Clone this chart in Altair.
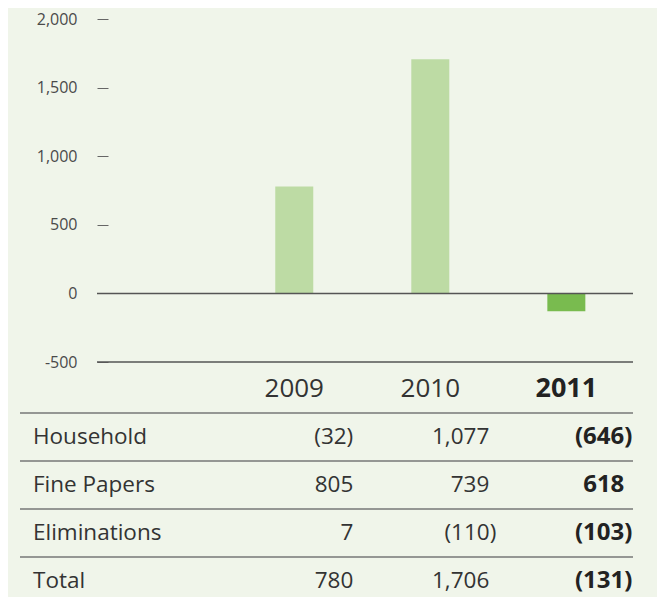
import altair as alt
import pandas as pd

# ---- data ----
years = [2009, 2010, 2011]
totals = [780, 1706, -131]
rows = ["Household", "Fine Papers", "Eliminations", "Total"]
household = [-32, 1077, -646]
fine_papers = [805, 739, 618]
eliminations = [7, -110, -103]
total_row = [780, 1706, -131]
y_ticks = [-500, 0, 500, 1000, 1500, 2000]
ref_lines = [0, -500]

BG = "#f0f5ea"
FONT = "Open Sans"
TXT = "#333333"


def fmt(v):
    return f"({abs(v):,})" if v < 0 else f"{v:,}"


bars_df = pd.DataFrame({"year": years, "value": totals})
recs = []
for r, vals in zip(rows, [household, fine_papers, eliminations, total_row]):
    for yr, v in zip(years, vals):
        recs.append({"row": r, "year": yr, "value": v, "label": fmt(v)})
table_df = pd.DataFrame(recs)
rows_df = pd.DataFrame({"row": rows})
head_df = pd.DataFrame({"row": ["header"] * len(years), "year": years,
                        "label": [str(y) for y in years]})
lines_df = pd.DataFrame({"y": ref_lines})

x_scale = alt.Scale(domain=[2007.55, 2011.49], nice=False, zero=False, padding=0)
y_bar = alt.Scale(domain=[-500, 2000], range=[343, 0], nice=False, zero=False)
y_tab = alt.Scale(domain=["header"] + rows, range=[346, 586],
                  paddingInner=0, paddingOuter=0)

X = alt.X("year:Q", scale=x_scale, axis=None)
YT = alt.Y("row:N", scale=y_tab, axis=None)

bars = alt.Chart(bars_df).mark_bar(size=38).encode(
    x=X,
    y=alt.Y("value:Q", scale=y_bar, title=None,
            axis=alt.Axis(values=y_ticks, domain=False, grid=False,
                          tickSize=11, offset=-11, tickColor="#666666",
                          tickWidth=1, labelPadding=20, labelFontSize=16,
                          labelColor="#4a4a4a", labelFont=FONT,
                          labelExpr="datum.value < 0 ? '-' + format(abs(datum.value), ',') : format(datum.value, ',')")),
    color=alt.condition("datum.year == 2011", alt.value("#79bb4f"), alt.value("#bddba4")),
)

lines = alt.Chart(lines_df).mark_rule(color="#555555", strokeWidth=1.5).encode(
    y=alt.Y("y:Q", scale=y_bar, axis=None)
)

header_normal = alt.Chart(head_df).transform_filter("datum.year < 2011").mark_text(
    fontSize=26, font=FONT, color=TXT).encode(x=X, y=YT, text="label:N")
header_bold = alt.Chart(head_df).transform_filter("datum.year == 2011").mark_text(
    fontSize=27, font=FONT, fontWeight="bold", color="#222222").encode(x=X, y=YT, text="label:N")

row_labels = alt.Chart(rows_df).mark_text(
    align="left", fontSize=22.5, font=FONT, color=TXT).encode(
    x=alt.value(-64), y=YT, text="row:N")

vals_a = alt.Chart(table_df).transform_filter(
    "datum.year == 2009 || (datum.year == 2010 && datum.value >= 0)").mark_text(
    align="right", dx=59, fontSize=22.5, font=FONT, color=TXT).encode(x=X, y=YT, text="label:N")
vals_b = alt.Chart(table_df).transform_filter(
    "datum.year == 2010 && datum.value < 0").mark_text(
    align="right", dx=66, fontSize=22.5, font=FONT, color=TXT).encode(x=X, y=YT, text="label:N")
vals_c = alt.Chart(table_df).transform_filter(
    "datum.year == 2011 && datum.value >= 0").mark_text(
    align="right", dx=58, fontSize=24, font=FONT, fontWeight="bold", color="#222222").encode(
    x=X, y=YT, text="label:N")
vals_d = alt.Chart(table_df).transform_filter(
    "datum.year == 2011 && datum.value < 0").mark_text(
    align="right", dx=66, fontSize=24, font=FONT, fontWeight="bold", color="#222222").encode(
    x=X, y=YT, text="label:N")

table_lines = alt.Chart(rows_df).mark_rule(color="#777777", strokeWidth=1.5).encode(
    y=alt.Y("row:N", scale=y_tab, axis=None, bandPosition=0),
    x=alt.value(-77), x2=alt.value(536))

chart = alt.layer(
    bars, lines, table_lines, header_normal, header_bold, row_labels,
    vals_a, vals_b, vals_c, vals_d
).resolve_scale(y="independent").properties(
    width=536, height=578,
    autosize=alt.AutoSizeParams(type="none"),
    padding={"left": 89, "top": 11, "right": 24, "bottom": 0},
    background=BG,
).configure_view(stroke=None)

chart.save("out.html", embed_options={"renderer": "svg", "actions": False})
